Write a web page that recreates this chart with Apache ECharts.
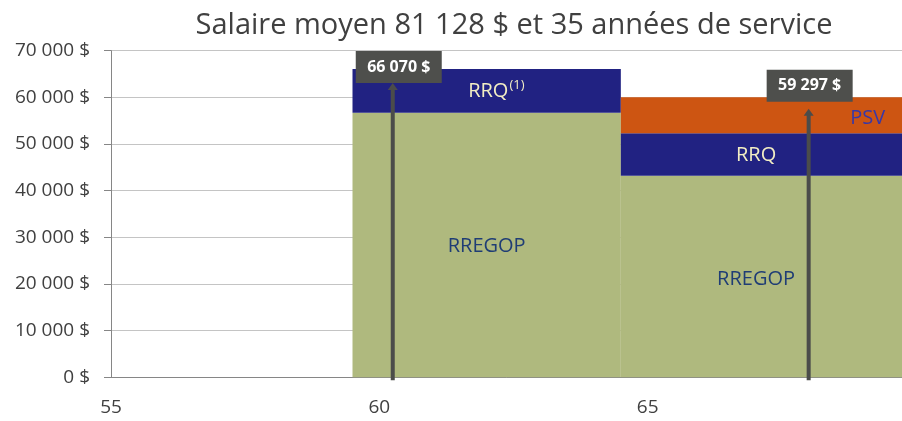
<!DOCTYPE html>
<html><head><meta charset="utf-8">
<script src="https://cdn.jsdelivr.net/npm/echarts@6/dist/echarts.min.js"></script>
<style>html,body{margin:0;padding:0;background:#fff}#c{width:902px;height:421px}</style>
</head><body><div id="c"></div>
<script>
// ---- data ----
const chartTitle = 'Salaire moyen 81 128 $ et 35 années de service';
const periodStart = [59.5, 64.5];
const periodEnd = [64.5, 70];
const rregop = [56700, 43200];
const rrq = [9370, 9100];
const psv = [0, 7700];
const calloutAge = [60.25, 68];
const calloutValue = [66070, 59297];
const xTickValues = [55, 60, 65, 70];
const yTickValues = [0, 10000, 20000, 30000, 40000, 50000, 60000, 70000];

// ---- layout / style config ----
const FONT = '"Open Sans", sans-serif';
const calloutTipDy = [14, 8];
const calloutBoxGap = [0, 7];
const calloutBoxDx = [6, 1];
const nameLabels = [
  {rich: '{a|RRQ}{s|(1)}', age: 62.18, value: 61300, color: '#f3eec4'},
  {rich: '{a|RREGOP}', age: 62.0, value: 28000, color: '#1f3d75'},
  {rich: '{a|RRQ}', age: 67.02, value: 47600, color: '#f3eec4'},
  {rich: '{a|PSV}', age: 69.1, value: 55600, color: '#3838a8'},
  {rich: '{a|RREGOP}', age: 67.02, value: 21100, color: '#1f3d75'}
];

function fmt(v) {
  return String(Math.round(v)).replace(/\B(?=(\d{3})+(?!\d))/g, ' ') + ' $';
}

const base1 = rregop.map(() => 0);
const base2 = rregop.slice();
const base3 = rregop.map((v, i) => v + rrq[i]);

function stackSeries(name, values, bases, color) {
  return {
    type: 'custom', name: name, z: 2,
    renderItem: function (params, api) {
      const p0 = api.coord([api.value(0), api.value(2)]);
      const p1 = api.coord([api.value(1), api.value(3)]);
      return {type: 'rect', shape: {x: p0[0], y: p1[1], width: p1[0] - p0[0], height: p0[1] - p1[1]},
        style: {fill: color}};
    },
    encode: {x: [0, 1], y: [2, 3]},
    data: values.map((v, i) => [periodStart[i], periodEnd[i], bases[i], bases[i] + v])
  };
}

const chart = echarts.init(document.getElementById('c'));
chart.setOption({
  animation: false,
  backgroundColor: '#fff',
  graphic: [{type: 'text', x: 514, y: 26, style: {text: chartTitle, font: '29px ' + FONT, fill: '#404040',
    textAlign: 'center', textVerticalAlign: 'middle'}}],
  grid: {left: 111, top: 50.7, width: 805, bottom: 43.7, outerBoundsMode: 'none', containLabel: false},
  xAxis: {
    type: 'value', min: 55, max: 70, interval: 5,
    axisLine: {show: true, lineStyle: {color: '#868686', width: 1}},
    axisTick: {show: false}, splitLine: {show: false},
    axisLabel: {fontFamily: FONT, fontSize: 19, color: '#404040', margin: 21,
      formatter: v => xTickValues.indexOf(v) >= 0 ? String(v) : ''}
  },
  yAxis: {
    type: 'value', min: 0, max: 70000, interval: 10000,
    axisLine: {show: true, lineStyle: {color: '#868686', width: 1}},
    axisTick: {show: true, length: 7, lineStyle: {color: '#868686'}},
    splitLine: {show: true, lineStyle: {color: '#c4c4c4', width: 1}},
    axisLabel: {fontFamily: FONT, fontSize: 19, color: '#404040', margin: 21,
      formatter: v => yTickValues.indexOf(v) >= 0 ? fmt(v) : ''}
  },
  series: [
    stackSeries('RREGOP', rregop, base1, '#afb97e'),
    stackSeries('RRQ', rrq, base2, '#212282'),
    stackSeries('PSV', psv, base3, '#cd5512'),
    {
      type: 'custom', name: 'labels', z: 3,
      renderItem: function (params, api) {
        const l = nameLabels[params.dataIndex];
        const p = api.coord([api.value(0), api.value(1)]);
        return {type: 'text', x: p[0], y: p[1], style: {text: l.rich, align: 'center', verticalAlign: 'middle',
          fill: l.color,
          rich: {a: {fontFamily: FONT, fontSize: 20, fill: l.color},
                 s: {fontFamily: FONT, fontSize: 13, fill: l.color, padding: [0, 0, 12, 1]}}}};
      },
      encode: {x: 0, y: 1},
      data: nameLabels.map(l => [l.age, l.value])
    },
    {
      type: 'custom', name: 'callouts', z: 5,
      renderItem: function (params, api) {
        const i = params.dataIndex;
        const x = api.coord([api.value(0), 0])[0];
        const y0 = api.coord([api.value(0), 0])[1] + 3;
        const tip = api.coord([api.value(0), api.value(1)])[1] + calloutTipDy[i];
        const boxBottom = tip - calloutBoxGap[i];
        const bw = 86, bh = 32;
        const cx = x + calloutBoxDx[i];
        return {type: 'group', children: [
          {type: 'line', shape: {x1: x, y1: y0, x2: x, y2: tip + 6}, style: {stroke: '#4b4c4a', lineWidth: 4}},
          {type: 'polygon', shape: {points: [[x - 5, tip + 7], [x + 5, tip + 7], [x, tip]]}, style: {fill: '#4b4c4a'}},
          {type: 'rect', shape: {x: cx - bw / 2, y: boxBottom - bh, width: bw, height: bh}, style: {fill: '#4e4f4c'}},
          {type: 'text', x: cx, y: boxBottom - bh / 2, style: {text: fmt(api.value(1)), align: 'center', verticalAlign: 'middle',
            fontFamily: FONT, fontSize: 16, fontWeight: 'bold', fill: '#ffffff'}}
        ]};
      },
      encode: {x: 0, y: 1},
      data: calloutAge.map((a, i) => [a, calloutValue[i]])
    }
  ]
});
</script></body></html>
